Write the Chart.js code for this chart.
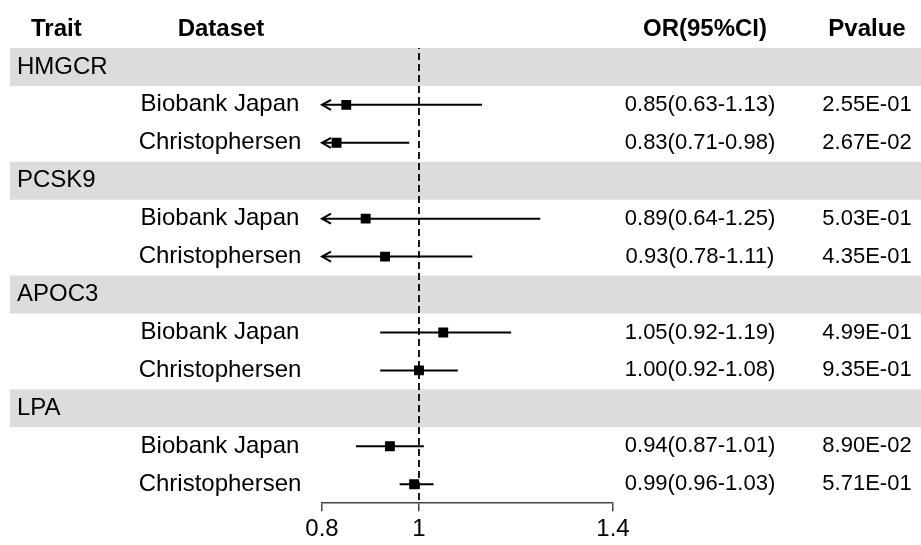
<!DOCTYPE html>
<html>
<head>
<meta charset="utf-8">
<style>
  html, body { margin: 0; padding: 0; background: #fff; }
  #wrap { width: 921px; height: 545px; position: relative; }
</style>
<script src="https://cdn.jsdelivr.net/npm/chart.js@4.4.1/dist/chart.umd.min.js"></script>
</head>
<body>
<div id="wrap"><canvas id="myChart"></canvas></div>
<script>
'use strict';

// values
let traits = ['HMGCR', 'PCSK9', 'APOC3', 'LPA'];
let sources = ['Biobank Japan', 'Christophersen'];
let orValues = [0.85, 0.83, 0.89, 0.93, 1.05, 1.00, 0.94, 0.99];
let ciLower = [0.63, 0.71, 0.64, 0.78, 0.92, 0.92, 0.87, 0.96];
let ciUpper = [1.13, 0.98, 1.25, 1.11, 1.19, 1.08, 1.01, 1.03];
let pValues = ['2.55E-01', '2.67E-02', '5.03E-01', '4.35E-01', '4.99E-01', '9.35E-01', '8.90E-02', '5.71E-01'];
let xTicks = [0.8, 1, 1.4];
let xMin = 0.8;
let xMax = 1.4;

const FONT = '"Liberation Sans", Arial, sans-serif';
Chart.defaults.font.family = FONT;
Chart.defaults.color = '#000';

// row 0 is the header, then one trait row followed by its sources
let traitRows = [];
let estRows = [];
let estLabels = [];
let row = 1;
for (let i = 0; i < traits.length; i++) {
  traitRows.push(row);
  row++;
  for (let j = 0; j < sources.length; j++) {
    estRows.push(row);
    estLabels.push(sources[j]);
    row++;
  }
}
let lastRow = row - 1;

let chartDatasets = [];

// reference line at OR = 1
chartDatasets.push({
  type: 'line',
  data: [{x: 1, y: 0.5}, {x: 1, y: lastRow + 0.5}],
  borderColor: '#000',
  borderWidth: 1.8,
  borderDash: [7, 4],
  borderDashOffset: 6,
  pointRadius: 0,
  clip: false,
});

// confidence intervals
for (let i = 0; i < orValues.length; i++) {
  chartDatasets.push({
    type: 'line',
    data: [{x: ciLower[i], y: estRows[i]}, {x: ciUpper[i], y: estRows[i]}],
    borderColor: '#000',
    borderWidth: 2,
    pointRadius: 0,
  });
}

// point estimates
chartDatasets.push({
  type: 'scatter',
  data: orValues.map((v, i) => ({x: v, y: estRows[i]})),
  pointStyle: 'rect',
  pointRadius: 7,
  backgroundColor: '#000',
  borderColor: '#000',
  borderWidth: 0,
});

let forestPlugin = {
  id: 'forest',
  beforeDatasetsDraw(chart) {
    let ctx = chart.ctx;
    let y = chart.scales.y;
    ctx.save();
    ctx.fillStyle = '#dcdcdc';
    for (let r of traitRows) {
      let top = y.getPixelForValue(r - 0.5);
      let bottom = y.getPixelForValue(r + 0.5);
      ctx.fillRect(10, top, chart.width - 10, bottom - top);
    }
    ctx.restore();
  },
  afterDatasetsDraw(chart) {
    let ctx = chart.ctx;
    let x = chart.scales.x;
    let y = chart.scales.y;
    ctx.save();

    // arrows where the interval runs past the axis
    ctx.strokeStyle = '#000';
    ctx.lineWidth = 2;
    for (let i = 0; i < orValues.length; i++) {
      let py = y.getPixelForValue(estRows[i]);
      if (ciLower[i] < xMin) {
        let px = x.getPixelForValue(xMin);
        ctx.beginPath();
        ctx.moveTo(px + 9, py - 5);
        ctx.lineTo(px, py);
        ctx.lineTo(px + 9, py + 5);
        ctx.stroke();
      }
      if (ciUpper[i] > xMax) {
        let px = x.getPixelForValue(xMax);
        ctx.beginPath();
        ctx.moveTo(px - 9, py - 5);
        ctx.lineTo(px, py);
        ctx.lineTo(px - 9, py + 5);
        ctx.stroke();
      }
    }

    // table text
    ctx.fillStyle = '#000';
    ctx.textBaseline = 'middle';
    let hy = y.getPixelForValue(0);
    ctx.font = 'bold 24px ' + FONT;
    ctx.textAlign = 'left';
    ctx.fillText('Trait', 31, hy);
    ctx.textAlign = 'center';
    ctx.fillText('Dataset', 221, hy);
    ctx.fillText('OR(95%CI)', 705, hy);
    ctx.fillText('Pvalue', 867, hy);

    ctx.font = '24px ' + FONT;
    ctx.textAlign = 'left';
    for (let i = 0; i < traits.length; i++) {
      ctx.fillText(traits[i], 17, y.getPixelForValue(traitRows[i]));
    }
    ctx.textAlign = 'center';
    for (let i = 0; i < orValues.length; i++) {
      ctx.fillText(estLabels[i], 220, y.getPixelForValue(estRows[i]));
    }
    ctx.font = '22px ' + FONT;
    for (let i = 0; i < orValues.length; i++) {
      let py = y.getPixelForValue(estRows[i]);
      let txt = orValues[i].toFixed(2) + '(' + ciLower[i].toFixed(2) + '-' + ciUpper[i].toFixed(2) + ')';
      ctx.fillText(txt, 700, py);
      ctx.fillText(pValues[i], 867, py);
    }
    ctx.restore();
  }
};

let ctx = document.getElementById('myChart').getContext('2d');
let myChart = new Chart(ctx, {
  data: {datasets: chartDatasets},
  plugins: [forestPlugin],
  options: {
    responsive: true,
    maintainAspectRatio: false,
    animation: false,
    events: [],
    layout: {padding: {left: 322, right: 308, top: 10, bottom: -3}},
    plugins: {legend: {display: false}, tooltip: {enabled: false}},
    scales: {
      x: {
        type: 'linear',
        min: xMin,
        max: xMax,
        afterBuildTicks: (scale) => {
          scale.ticks = xTicks.map(v => ({value: v}));
        },
        ticks: {
          padding: 4,
          color: '#000',
          font: {size: 24},
          callback: (v) => String(v),
        },
        grid: {drawOnChartArea: false, drawTicks: true, tickLength: 8, color: '#444', lineWidth: 1.5},
        border: {display: true, color: '#444', width: 1.5},
      },
      y: {
        type: 'linear',
        display: false,
        reverse: true,
        min: -0.5,
        max: lastRow + 0.5,
      }
    }
  }
});
</script>
</body>
</html>
